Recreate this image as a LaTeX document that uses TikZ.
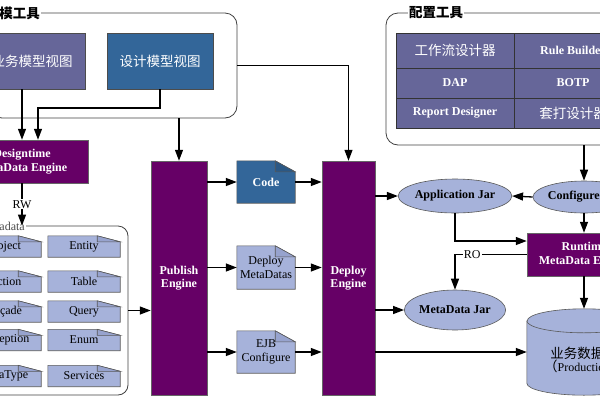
\documentclass[tikz,border=0pt]{standalone}
\usepackage{fontspec}
\setmainfont{Liberation Serif}
\newfontfamily\cjk{Noto Sans CJK SC}
\usetikzlibrary{arrows.meta,backgrounds,shapes.geometric}
\definecolor{engP}{HTML}{660066}
\definecolor{boxB}{HTML}{336699}
\definecolor{boxBD}{HTML}{2B5885}
\definecolor{boxV}{HTML}{666699}
\definecolor{lite}{HTML}{A6B2DA}
\definecolor{liteD}{HTML}{97A3CE}
\newcommand\ef{\fontsize{12}{13.5}\selectfont}
\newcommand\cf{\cjk\fontsize{13.5}{16}\selectfont}
\newcommand\docbg[5]{%
  \filldraw[fill=#2,draw=black!65,line width=0.6pt] (#1.north west) -- ([xshift=-#4]#1.north east) -- ([yshift=-#5]#1.north east) -- (#1.south east) -- (#1.south west) -- cycle;
  \filldraw[fill=#3,draw=black!65,line width=0.6pt] ([xshift=-#4]#1.north east) -- ([xshift=-#4,yshift=-#5]#1.north east) -- ([yshift=-#5]#1.north east) -- cycle;}
\tikzset{
  arr/.style={line width=1.3pt,-{Triangle[length=11pt,width=8pt]}},
  grp/.style={draw=black!75,line width=0.8pt,rounded corners=12pt,inner sep=0pt},
  engine/.style={fill=engP,draw=black!60,line width=0.5pt,text=white,font=\ef\bfseries,align=center,inner sep=0pt},
  docn/.style={inner sep=0pt,align=center,font=\ef},
  oval/.style={ellipse,fill=lite,draw=black!65,line width=0.6pt,font=\ef\bfseries,inner sep=0pt},
  cell/.style={fill=boxV,draw=black!80,line width=0.6pt,text=white,inner sep=0pt},
  tag/.style={fill=white,inner sep=1pt,font=\ef},
  glabel/.style={fill=white,inner sep=1pt,font=\cf\bfseries},
}
\begin{document}
\begin{tikzpicture}[x=1pt,y=-1pt]
\useasboundingbox (0,0) rectangle (600,400);
\clip (0,0) rectangle (600,400);
% modelling tools group
\node[grp,minimum width=247pt,minimum height=105pt] (mgroup) at (113.5,65.5) {};
\node[glabel,anchor=east] (mlabel) at (41,13) {建模工具};
\node[fill=boxV,draw=black!70,line width=0.6pt,minimum width=106pt,minimum height=56pt,text=white,font=\cf] (yw) at (32,61) {业务模型视图};
\node[fill=boxB,draw=black!70,line width=0.6pt,minimum width=106pt,minimum height=56pt,text=white,font=\cf] (sj) at (160,61) {设计模型视图};
% designtime engine
\node[engine,minimum width=132pt,minimum height=43pt] (dte) at (22,161.5) {Designtime\\MetaData Engine};
% metadata group
\node[grp,rounded corners=10pt,minimum width=138pt,minimum height=169pt] (mdg) at (59,310.5) {};
\node[font=\ef,text=black!70,fill=white,inner sep=1pt,anchor=east] (mdlabel) at (26,226) {Metadata};
\foreach \n/\t/\x/\y in {d1/Object/5/246.5, d2/Entity/84/246.5, d3/Action/5/281.5, d4/Table/84/281.5, d5/Façade/5/311.5, d6/Query/84/311.5, d7/Exception/5/340, d8/Enum/84/340, d9/DataType/5/376, d10/Services/84/376}
  {\node[docn,minimum width=72pt,minimum height=21pt] (\n) at (\x,\y) {\t};}
% engines
\node[engine,minimum width=56pt,minimum height=234pt] (pub) at (179,278) {Publish\\Engine};
\node[engine,minimum width=53pt,minimum height=234pt] (dep) at (348.5,278) {Deploy\\Engine};
% middle documents
\node[docn,text=white,font=\ef\bfseries,minimum width=58pt,minimum height=42pt] (code) at (266,182) {Code};
\node[docn,minimum width=58pt,minimum height=43pt] (dmd) at (266,267.5) {Deploy\\MetaDatas};
\node[docn,minimum width=58pt,minimum height=42pt] (ejb) at (266,352) {EJB\\Configure};
% configuration tools group
\node[grp,minimum width=234pt,minimum height=132pt] (cg) at (503,79) {};
\node[glabel] (clabel) at (436,13) {配置工具};
\node[cell,minimum width=118pt,minimum height=35pt,font=\cf] (c11) at (455,50.5) {工作流设计器};
\node[cell,minimum width=118pt,minimum height=35pt,font=\ef\bfseries] (c12) at (573,50.5) {Rule Builder};
\node[cell,minimum width=118pt,minimum height=30pt,font=\ef\bfseries] (c21) at (455,83) {DAP};
\node[cell,minimum width=118pt,minimum height=30pt,font=\ef\bfseries] (c22) at (573,83) {BOTP};
\node[cell,minimum width=118pt,minimum height=30pt,font=\ef\bfseries] (c31) at (455,113) {Report Designer};
\node[cell,minimum width=118pt,minimum height=30pt,font=\cf] (c32) at (573,113) {套打设计器};
% right side
\node[oval,minimum width=96pt,minimum height=32pt] (cfg) at (584,197) {Configure Jar};
\node[oval,minimum width=95pt,minimum height=34pt] (app) at (455,196) {Application Jar};
\node[oval,minimum width=96pt,minimum height=40pt] (mdj) at (455,310) {MetaData Jar};
\node[engine,minimum width=114pt,minimum height=43pt] (rt) at (584,254.5) {Runtime\\MetaData Engine};
\node[inner sep=0pt,minimum width=114pt,minimum height=86pt] (db) at (584,352) {};
\node[align=center,inner sep=0pt] (dbt) at (584,360) {{\cf 业务数据库}\\{\cf （}{\ef Production}{\cf ）}};
% backgrounds for documents and database
\begin{pgfonlayer}{background}
  \foreach \n in {d1,d2,d3,d4,d5,d6,d7,d8,d9,d10} {\docbg{\n}{lite}{liteD}{23pt}{6pt}}
  \docbg{code}{boxB}{boxBD}{20pt}{11pt}
  \docbg{dmd}{lite}{liteD}{20pt}{11pt}
  \docbg{ejb}{lite}{liteD}{20pt}{11pt}
  \filldraw[fill=lite,draw=black!65,line width=0.6pt] ([yshift=-12pt]db.north west) -- ([yshift=12pt]db.south west) arc[start angle=180,end angle=360,x radius=57pt,y radius=12pt] -- ([yshift=-12pt]db.north east) arc[start angle=0,end angle=180,x radius=57pt,y radius=12pt] -- cycle;
  \draw[black!65,line width=0.6pt] ([yshift=-12pt]db.north west) arc[start angle=180,end angle=360,x radius=57pt,y radius=12pt];
\end{pgfonlayer}
% connectors
\draw[arr] (yw.south -| dte.north) -- (dte.north);
\draw[arr] (sj.south) -- (sj.south |- 0,108) -| ([xshift=16pt]dte.north);
\draw[arr] (dte.south) -- node[tag]{RW} (dte.south |- mdg.north);
\draw[arr] (pub.north |- mgroup.south) -- (pub.north);
\draw[arr] (mgroup.east) -| (dep.north);
\draw[arr] (mdg.east) -- (mdg.east -| pub.west);
\draw[arr] (pub.east |- code.west) -- (code.west);
\draw[arr] (pub.east |- dmd.west) -- (dmd.west);
\draw[arr] (pub.east |- ejb.west) -- (ejb.west);
\draw[arr] (code.east) -- (code.east -| dep.west);
\draw[arr] (dmd.east) -- (dmd.east -| dep.west);
\draw[arr] (ejb.east) -- (ejb.east -| dep.west);
\draw[arr] (dep.east |- app.west) -- (app.west);
\draw[arr] (dep.east |- mdj.west) -- (mdj.west);
\draw[arr] (dep.east |- db.west) -- (db.west);
\draw[arr] (cfg.north |- cg.south) -- (cfg.north);
\draw[arr] (cfg.west) -- (app.east);
\draw[arr] (cfg.south) -- (rt.north);
\draw[arr] (app.south) |- ([yshift=13.5pt]rt.west);
\draw[arr] (rt.west) -| node[tag,pos=0.38]{RO} (mdj.north);
\draw[arr] (rt.south) -- (db.north);
\end{tikzpicture}
\end{document}
